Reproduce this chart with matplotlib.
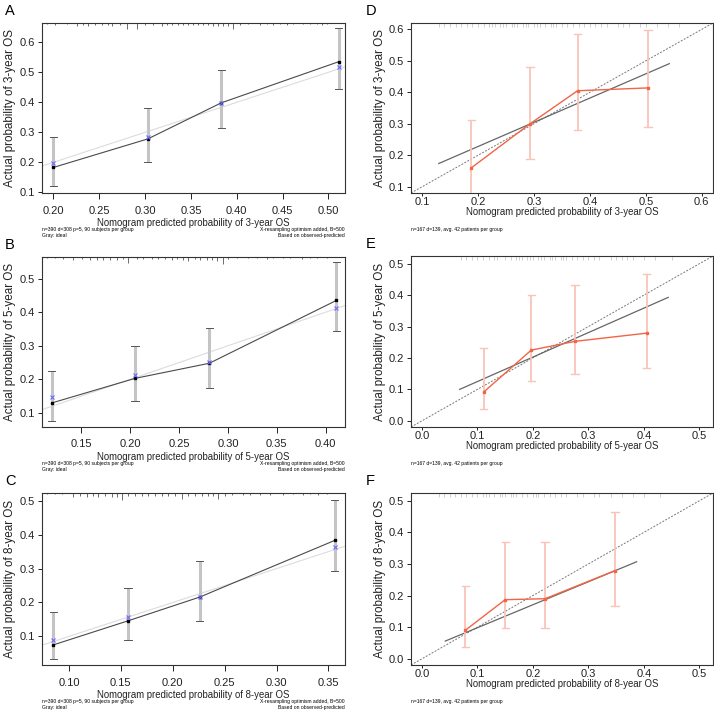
import matplotlib
matplotlib.use("Agg")
import matplotlib.pyplot as plt
import numpy as np

plt.rcParams['font.family'] = ['Liberation Sans', 'DejaVu Sans']

W, H = 714, 713

# ---------------- Data: left panels (A, B, C) ----------------
A_pred = [0.200, 0.303, 0.383, 0.511]
A_obs = [0.183, 0.278, 0.398, 0.535]
A_corr = [0.197, 0.286, 0.398, 0.517]
A_lo = [0.120, 0.202, 0.313, 0.445]
A_hi = [0.283, 0.380, 0.508, 0.646]
A_rug = [0.1928, 0.2019, 0.2146, 0.2255, 0.2327, 0.2382, 0.2455, 0.2528, 0.2600, 0.2637,
         0.2728, 0.2801, 0.2910, 0.3000, 0.3091, 0.3183, 0.3237, 0.3292, 0.3364, 0.3419,
         0.3473, 0.3528, 0.3582, 0.3637, 0.3691, 0.3746, 0.3801, 0.3855, 0.3910, 0.3964,
         0.4037, 0.4127, 0.4255, 0.4328, 0.4400, 0.4473, 0.4546, 0.4618, 0.4727, 0.4800,
         0.4873, 0.4928, 0.4982]
A_rugh = [1, 2, 1, 3, 2, 3, 2, 2, 2, 3, 2, 6, 6, 2, 2, 3, 2, 2, 2, 2,
          2, 2, 2, 2, 2, 3, 3, 3, 3, 6, 2, 1, 2, 1, 2, 1, 2, 1, 1, 1, 1, 2, 1]

B_pred = [0.120, 0.205, 0.281, 0.411]
B_obs = [0.130, 0.203, 0.248, 0.435]
B_corr = [0.147, 0.212, 0.252, 0.413]
B_lo = [0.075, 0.137, 0.175, 0.345]
B_hi = [0.226, 0.300, 0.353, 0.549]
B_rug = [0.1150, 0.1234, 0.1319, 0.1421, 0.1507, 0.1592, 0.1660, 0.1728, 0.1796, 0.1865,
         0.1932, 0.1983, 0.2069, 0.2137, 0.2222, 0.2290, 0.2358, 0.2427, 0.2478, 0.2545,
         0.2596, 0.2665, 0.2716, 0.2784, 0.2835, 0.2887, 0.2954, 0.3005, 0.3091, 0.3209,
         0.3295, 0.3397, 0.3465, 0.3567, 0.3635, 0.3755, 0.3840, 0.3908, 0.4010]
B_rugh = [1, 1, 2, 3, 2, 3, 3, 3, 3, 3, 2, 6, 2, 2, 2, 2, 2, 3, 2, 3,
          4, 2, 3, 3, 3, 4, 7, 2, 1, 1, 1, 2, 1, 1, 1, 2, 1, 1, 1]

C_pred = [0.085, 0.157, 0.226, 0.356]
C_obs = [0.075, 0.146, 0.216, 0.383]
C_corr = [0.089, 0.157, 0.216, 0.363]
C_lo = [0.032, 0.088, 0.145, 0.294]
C_hi = [0.173, 0.244, 0.323, 0.503]
C_rug = [0.0785, 0.0865, 0.0930, 0.1042, 0.1106, 0.1171, 0.1235, 0.1283, 0.1347, 0.1412,
         0.1460, 0.1508, 0.1572, 0.1636, 0.1701, 0.1765, 0.1829, 0.1894, 0.1958, 0.2022,
         0.2087, 0.2150, 0.2215, 0.2280, 0.2343, 0.2392, 0.2440, 0.2504, 0.2569, 0.2681,
         0.2745, 0.2842, 0.2938, 0.3067, 0.3163, 0.3259, 0.3324, 0.3404, 0.3485]
C_rugh = [1, 1, 1, 4, 3, 4, 3, 4, 3, 4, 4, 7, 3, 3, 3, 3, 3, 3, 3, 3,
          6, 3, 3, 3, 3, 3, 6, 3, 2, 2, 2, 2, 2, 2, 1, 2, 1, 2, 1]

# ---------------- Data: right panels (D, E, F) ----------------
D_pred = [0.188, 0.293, 0.378, 0.504]
D_obs = [0.160, 0.300, 0.405, 0.414]
D_lo = [0.050, 0.187, 0.281, 0.290]
D_hi = [0.313, 0.481, 0.585, 0.598]
D_fit_x = [0.130, 0.542]
D_fit_y = [0.174, 0.491]
D_rug = [0.13, 0.14, 0.15, 0.16, 0.17, 0.18, 0.19, 0.20, 0.21, 0.22, 0.225, 0.23, 0.24,
         0.245, 0.25, 0.26, 0.265, 0.27, 0.28, 0.285, 0.29, 0.30, 0.305, 0.31, 0.32, 0.33,
         0.335, 0.34, 0.35, 0.36, 0.37, 0.38, 0.39, 0.40, 0.41, 0.42, 0.43, 0.45, 0.46,
         0.47, 0.49, 0.50, 0.52, 0.54, 0.56]

E_pred = [0.111, 0.197, 0.276, 0.405]
E_obs = [0.091, 0.225, 0.253, 0.279]
E_lo = [0.036, 0.127, 0.150, 0.168]
E_hi = [0.232, 0.401, 0.432, 0.466]
E_fit_x = [0.068, 0.444]
E_fit_y = [0.100, 0.393]
E_rug = [0.07, 0.08, 0.09, 0.10, 0.11, 0.12, 0.13, 0.135, 0.15, 0.16, 0.17, 0.175, 0.18,
         0.19, 0.195, 0.20, 0.21, 0.215, 0.22, 0.23, 0.235, 0.24, 0.25, 0.255, 0.26, 0.27,
         0.28, 0.29, 0.30, 0.31, 0.32, 0.34, 0.35, 0.36, 0.37, 0.38, 0.40, 0.42, 0.45]

F_pred = [0.078, 0.150, 0.222, 0.348]
F_obs = [0.090, 0.187, 0.190, 0.279]
F_lo = [0.036, 0.096, 0.098, 0.168]
F_hi = [0.231, 0.369, 0.369, 0.465]
F_fit_x = [0.042, 0.387]
F_fit_y = [0.056, 0.307]
F_rug = [0.03, 0.04, 0.05, 0.06, 0.07, 0.08, 0.09, 0.10, 0.11, 0.115, 0.12, 0.13, 0.14,
         0.145, 0.15, 0.16, 0.165, 0.17, 0.18, 0.19, 0.20, 0.205, 0.21, 0.22, 0.23, 0.24,
         0.25, 0.26, 0.28, 0.29, 0.31, 0.32, 0.34, 0.36, 0.38, 0.40, 0.43]

left_foot1 = "n=390 d=308 p=5, 90 subjects per group"
left_foot2 = "Gray: ideal"
left_foot3 = "X-resampling optimism added, B=500"
left_foot4 = "Based on observed-predicted"
right_foot = "n=167 d=139, avg. 42 patients per group"

fig = plt.figure(figsize=(W / 100, H / 100), dpi=100)


def rect(l, t, r, b):
    return [l / W, 1 - b / H, (r - l) / W, (b - t) / H]


TICK_FS = 8.0
XLAB_FS = 6.9
YLAB_FS = 8.4
FOOT_FS = 3.6


def style_axes(ax, xlen, xpad):
    for s in ax.spines.values():
        s.set_linewidth(0.8)
        s.set_color('#333333')
    ax.tick_params(direction='out', length=3, width=0.7, labelsize=TICK_FS,
                   colors='#222222', pad=2)
    ax.tick_params(axis='x', length=xlen, pad=xpad)


def left_panel(px, letter, pred, obs, corr, lo, hi, rug, rugh, xlim, ylim, xticks, yticks,
               xfmt, year):
    ax = fig.add_axes(rect(*px))
    style_axes(ax, 4, 5)
    ax.set_xlim(*xlim)
    ax.set_ylim(*ylim)
    # ideal line
    ax.plot(xlim, xlim, color='#dcdcdc', lw=0.8, zorder=1)
    # error bars
    ax.vlines(pred, lo, hi, color='#c4c4c4', lw=2.2, zorder=2)
    cw = (xlim[1] - xlim[0]) * 0.012
    for x, l, h in zip(pred, lo, hi):
        ax.plot([x - cw, x + cw], [l, l], color='#555555', lw=0.7, zorder=3)
        ax.plot([x - cw, x + cw], [h, h], color='#555555', lw=0.7, zorder=3)
    ax.plot(pred, obs, color='#4a4a4a', lw=0.8, zorder=4)
    ax.plot(pred, obs, 's', color='black', ms=1.8, zorder=5)
    ax.plot(pred, corr, 'x', color='#6a6aff', ms=2.2, mew=0.8, zorder=5)
    # rug at top
    yr = ylim[1] - ylim[0]
    unit = yr / 170.0
    ax.vlines(rug, [ylim[1] - h * unit for h in rugh], ylim[1], color='#555555', lw=0.6,
              zorder=2)
    ax.set_xticks(xticks)
    ax.set_xticklabels([xfmt.format(v) for v in xticks])
    ax.set_yticks(yticks)
    ax.set_yticklabels(["{:.1f}".format(v) for v in yticks])
    ax.set_xlabel("Nomogram predicted probability of %s-year OS" % year, fontsize=XLAB_FS,
                  labelpad=2, color='#222222')
    ax.set_ylabel("Actual probability of %s-year OS" % year, fontsize=YLAB_FS, labelpad=3,
                  color='#222222')
    l, t, r, b = px
    fig.text(5 / W, 1 - (t - 12) / H, letter, fontsize=10.5, va='center', ha='left')
    fig.text(l / W, 1 - (b + 37) / H, left_foot1, fontsize=FOOT_FS, va='center', ha='left')
    fig.text(l / W, 1 - (b + 43) / H, left_foot2, fontsize=FOOT_FS, va='center', ha='left')
    fig.text(r / W, 1 - (b + 37) / H, left_foot3, fontsize=FOOT_FS, va='center', ha='right')
    fig.text(r / W, 1 - (b + 43) / H, left_foot4, fontsize=FOOT_FS, va='center', ha='right')
    return ax


def right_panel(px, letter, pred, obs, lo, hi, fx, fy, rug, lim, ticks, year):
    ax = fig.add_axes(rect(*px))
    style_axes(ax, 2, 1)
    ax.set_xlim(*lim)
    ax.set_ylim(*lim)
    ax.plot(lim, lim, color='#777777', lw=0.7, ls=(0, (2, 1.5)), zorder=1)
    ax.plot(fx, fy, color='#666666', lw=0.9, zorder=2)
    cw = (lim[1] - lim[0]) * 0.012
    ax.vlines(pred, lo, hi, color='#f9c3b8', lw=1.3, zorder=3)
    for x, l, h in zip(pred, lo, hi):
        ax.plot([x - cw, x + cw], [l, l], color='#f9c3b8', lw=1.0, zorder=3)
        ax.plot([x - cw, x + cw], [h, h], color='#f9c3b8', lw=1.0, zorder=3)
    ax.plot(pred, obs, color='#f26446', lw=1.0, zorder=4)
    ax.plot(pred, obs, 's', color='#f26446', ms=2.0, zorder=5)
    unit = (lim[1] - lim[0]) / 170.0
    ax.vlines(rug, lim[1] - 4 * unit, lim[1], color='#bdbdbd', lw=0.5, zorder=1)
    ax.set_xticks(ticks)
    ax.set_xticklabels(["{:.1f}".format(v) for v in ticks])
    ax.set_yticks(ticks)
    ax.set_yticklabels(["{:.1f}".format(v) for v in ticks])
    ax.set_xlabel("Nomogram predicted probability of %s-year OS" % year, fontsize=XLAB_FS,
                  labelpad=0, color='#222222')
    ax.set_ylabel("Actual probability of %s-year OS" % year, fontsize=YLAB_FS, labelpad=2,
                  color='#222222')
    l, t, r, b = px
    fig.text(366 / W, 1 - (t - 12) / H, letter, fontsize=10.5, va='center', ha='left')
    fig.text(l / W, 1 - (b + 36) / H, right_foot, fontsize=FOOT_FS, va='center', ha='left')
    return ax


left_panel((42, 23, 345, 193), 'A', A_pred, A_obs, A_corr, A_lo, A_hi, A_rug, A_rugh,
           (0.1877, 0.518), (0.098, 0.664),
           [0.20, 0.25, 0.30, 0.35, 0.40, 0.45, 0.50], [0.1, 0.2, 0.3, 0.4, 0.5, 0.6],
           "{:.2f}", "3")
left_panel((42, 257, 345, 427), 'B', B_pred, B_obs, B_corr, B_lo, B_hi, B_rug, B_rugh,
           (0.110, 0.4197), (0.0585, 0.564),
           [0.15, 0.20, 0.25, 0.30, 0.35, 0.40], [0.1, 0.2, 0.3, 0.4, 0.5],
           "{:.2f}", "5")
left_panel((42, 493, 345, 665), 'C', C_pred, C_obs, C_corr, C_lo, C_hi, C_rug, C_rugh,
           (0.074, 0.366), (0.0156, 0.523),
           [0.10, 0.15, 0.20, 0.25, 0.30, 0.35], [0.1, 0.2, 0.3, 0.4, 0.5],
           "{:.2f}", "8")

right_panel((411, 23, 713, 193), 'D', D_pred, D_obs, D_lo, D_hi, D_fit_x, D_fit_y, D_rug,
            (0.0804, 0.620), [0.1, 0.2, 0.3, 0.4, 0.5, 0.6], "3")
right_panel((411, 256, 713, 427), 'E', E_pred, E_obs, E_lo, E_hi, E_fit_x, E_fit_y, E_rug,
            (-0.0198, 0.5247), [0.0, 0.1, 0.2, 0.3, 0.4, 0.5], "5")
right_panel((411, 493, 713, 665), 'F', F_pred, F_obs, F_lo, F_hi, F_fit_x, F_fit_y, F_rug,
            (-0.0198, 0.5247), [0.0, 0.1, 0.2, 0.3, 0.4, 0.5], "8")

fig.savefig("out.png", dpi=100)
